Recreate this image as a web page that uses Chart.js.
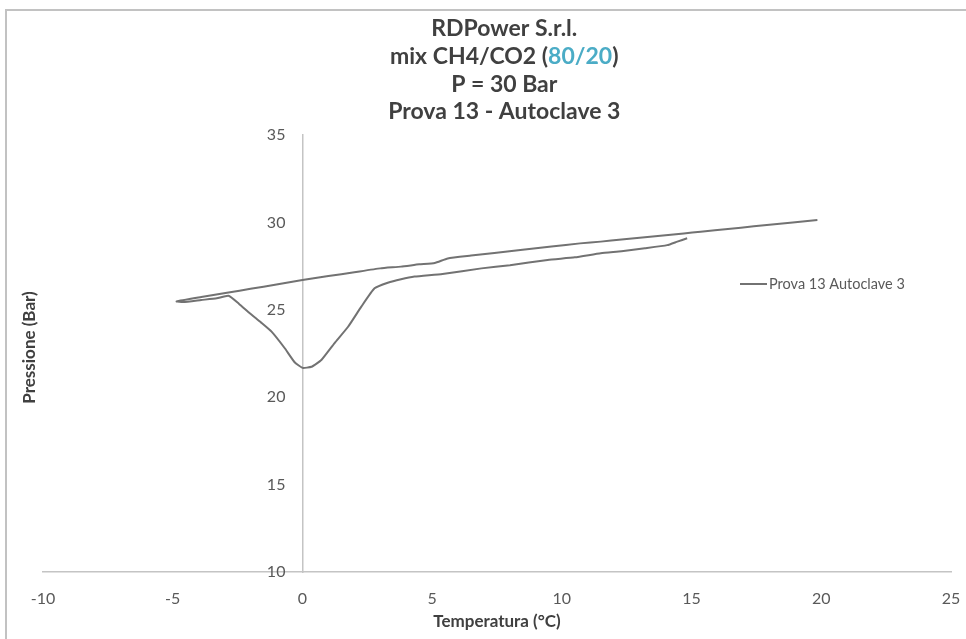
<!DOCTYPE html>
<html>
<head>
<meta charset="utf-8">
<script src="https://cdn.jsdelivr.net/npm/chart.js@4.4.1/dist/chart.umd.min.js"></script>
<style>
  html, body { margin: 0; padding: 0; background: #ffffff; }
  canvas { display: block; }
</style>
</head>
<body>
<canvas id="grafico" width="966" height="639"></canvas>
<script>
// Titolo (la seconda riga ha il rapporto di miscela evidenziato)
const titoloRighe = ['RDPower S.r.l.', 'mix CH4/CO2 (', '80/20', ')', 'P = 30 Bar', 'Prova 13 - Autoclave 3'];
const etichettaSerie = 'Prova 13 Autoclave 3';
const titoloX = 'Temperatura (°C)';
const titoloY = 'Pressione (Bar)';

// Assi
const xMin = -10, xMax = 25, xPasso = 5;
const yMin = 10, yMax = 35, yPasso = 5;

// Ciclo di prova: raffreddamento lungo la retta superiore, poi riscaldamento
const temperatura = [
  19.85, 18.9, 17.9, 16.9, 15.9, 15.35, 14.7, 13.5, 12.3, 11.5,
  10.7, 9.6, 8.4, 7.4, 6.5, 5.6, 5.1, 4.5, 3.8, 3.0,
  2.0, 1.0, 0.0, -1.0, -2.0, -2.85, -3.9, -4.85,
  -4.6, -3.9, -3.3, -2.85, -2.45, -2.03, -1.6, -1.19, -0.68, -0.3,
  0.0, 0.35, 0.73, 1.24, 1.76, 2.27, 2.78, 3.29, 3.8, 4.32,
  5.4, 6.9, 8.0, 9.45, 10.5, 11.5, 12.3, 13.2, 14.06, 14.45,
  14.83
];
const pressione = [
  30.14, 30.0, 29.85, 29.7, 29.55, 29.47, 29.37, 29.2, 29.02, 28.9,
  28.8, 28.62, 28.42, 28.25, 28.1, 27.94, 27.68, 27.6, 27.47, 27.37,
  27.15, 26.93, 26.7, 26.45, 26.2, 25.99, 25.73, 25.48,
  25.44, 25.56, 25.66, 25.8, 25.35, 24.8, 24.28, 23.75, 22.8, 22.0,
  21.68, 21.74, 22.13, 23.1, 24.03, 25.18, 26.23, 26.55, 26.75, 26.9,
  27.05, 27.37, 27.55, 27.85, 28.0, 28.23, 28.35, 28.52, 28.7, 28.9,
  29.09
];

const FONT = 'Lato, "Open Sans", sans-serif';
const coloreLinea = '#727272';
const coloreAssi = '#c4c4c4';
const coloreTesto = '#404040';
const coloreTick = '#595959';
const coloreEvidenza = '#4bacc6';

const punti = temperatura.map((t, i) => ({ x: t, y: pressione[i] }));

// Cornice, titolo, etichette dell'asse Y (accanto all'asse in x = 0), titolo Y e legenda
const decorazioni = {
  id: 'decorazioni',
  beforeDraw(chart) {
    const ctx = chart.ctx;
    ctx.save();
    ctx.strokeStyle = '#c2c2c2';
    ctx.lineWidth = 2;
    ctx.strokeRect(6, 10, chart.width + 20, chart.height + 20);
    ctx.restore();
  },
  afterDraw(chart) {
    const ctx = chart.ctx;
    const area = chart.chartArea;
    const sx = chart.scales.x, sy = chart.scales.y;
    ctx.save();

    // titolo
    const cx = chart.width * 0.522;
    ctx.font = 'bold 23px ' + FONT;
    ctx.textBaseline = 'middle';
    ctx.textAlign = 'center';
    ctx.fillStyle = coloreTesto;
    ctx.fillText(titoloRighe[0], cx, 29);
    const a = titoloRighe[1], b = titoloRighe[2], c = titoloRighe[3];
    const wa = ctx.measureText(a).width, wb = ctx.measureText(b).width, wc = ctx.measureText(c).width;
    const x0 = cx - (wa + wb + wc) / 2;
    ctx.textAlign = 'left';
    ctx.fillText(a, x0, 57);
    ctx.fillStyle = coloreEvidenza;
    ctx.fillText(b, x0 + wa, 57);
    ctx.fillStyle = coloreTesto;
    ctx.fillText(c, x0 + wa + wb, 57);
    ctx.textAlign = 'center';
    ctx.fillText(titoloRighe[4], cx, 85);
    ctx.fillText(titoloRighe[5], cx, 112);

    // etichette dei tick Y, a sinistra dell'asse verticale
    const xAsse = sx.getPixelForValue(0);
    ctx.font = '16px ' + FONT;
    ctx.fillStyle = coloreTick;
    ctx.textAlign = 'right';
    ctx.textBaseline = 'middle';
    sy.ticks.forEach(t => {
      ctx.fillText(String(t.value), xAsse - 17, sy.getPixelForValue(t.value));
    });

    // titolo asse Y
    ctx.save();
    ctx.translate(area.left - 13, (area.top + area.bottom) / 2 - 6);
    ctx.rotate(-Math.PI / 2);
    ctx.font = 'bold 17px ' + FONT;
    ctx.fillStyle = coloreTesto;
    ctx.textAlign = 'center';
    ctx.textBaseline = 'middle';
    ctx.fillText(titoloY, 0, 0);
    ctx.restore();

    // legenda
    const ds = chart.data.datasets[0];
    const lx = area.right - 211, ly = 284;
    ctx.strokeStyle = ds.borderColor;
    ctx.lineWidth = ds.borderWidth;
    ctx.beginPath();
    ctx.moveTo(lx, ly);
    ctx.lineTo(lx + 27, ly);
    ctx.stroke();
    ctx.font = '14.5px ' + FONT;
    ctx.fillStyle = coloreTick;
    ctx.textAlign = 'left';
    ctx.textBaseline = 'middle';
    ctx.fillText(ds.label, lx + 29, ly);

    ctx.restore();
  }
};

new Chart(document.getElementById('grafico'), {
  type: 'scatter',
  data: {
    datasets: [{
      label: etichettaSerie,
      data: punti,
      showLine: true,
      borderColor: coloreLinea,
      backgroundColor: coloreLinea,
      borderWidth: 2,
      pointRadius: 0,
      pointHoverRadius: 0,
      tension: 0.15,
      fill: false
    }]
  },
  options: {
    responsive: false,
    animation: false,
    events: [],
    layout: { padding: { left: 43, right: 15, top: 135, bottom: 0 } },
    plugins: {
      legend: { display: false },
      title: { display: false },
      tooltip: { enabled: false }
    },
    scales: {
      x: {
        type: 'linear',
        position: 'bottom',
        min: xMin, max: xMax,
        ticks: { stepSize: xPasso, color: coloreTick, font: { family: FONT, size: 16 }, padding: 17 },
        grid: { display: false, drawTicks: false },
        border: { display: true, color: coloreAssi, width: 1.5 },
        title: { display: true, text: titoloX, color: coloreTesto, font: { family: FONT, size: 17, weight: 'bold' }, padding: { top: 0, bottom: 7 } },
        afterFit(scale) {
          scale.height = 67;
          scale.paddingLeft = 0;
          scale.paddingRight = 0;
        }
      },
      y: {
        type: 'linear',
        position: { x: 0 },
        min: yMin, max: yMax,
        ticks: { stepSize: yPasso, display: false },
        grid: { display: false, drawTicks: false },
        border: { display: true, color: coloreAssi, width: 1.5 },
        afterFit(scale) {
          scale.paddingTop = 0;
          scale.paddingBottom = 0;
        }
      }
    }
  },
  plugins: [decorazioni]
});
</script>
</body>
</html>
